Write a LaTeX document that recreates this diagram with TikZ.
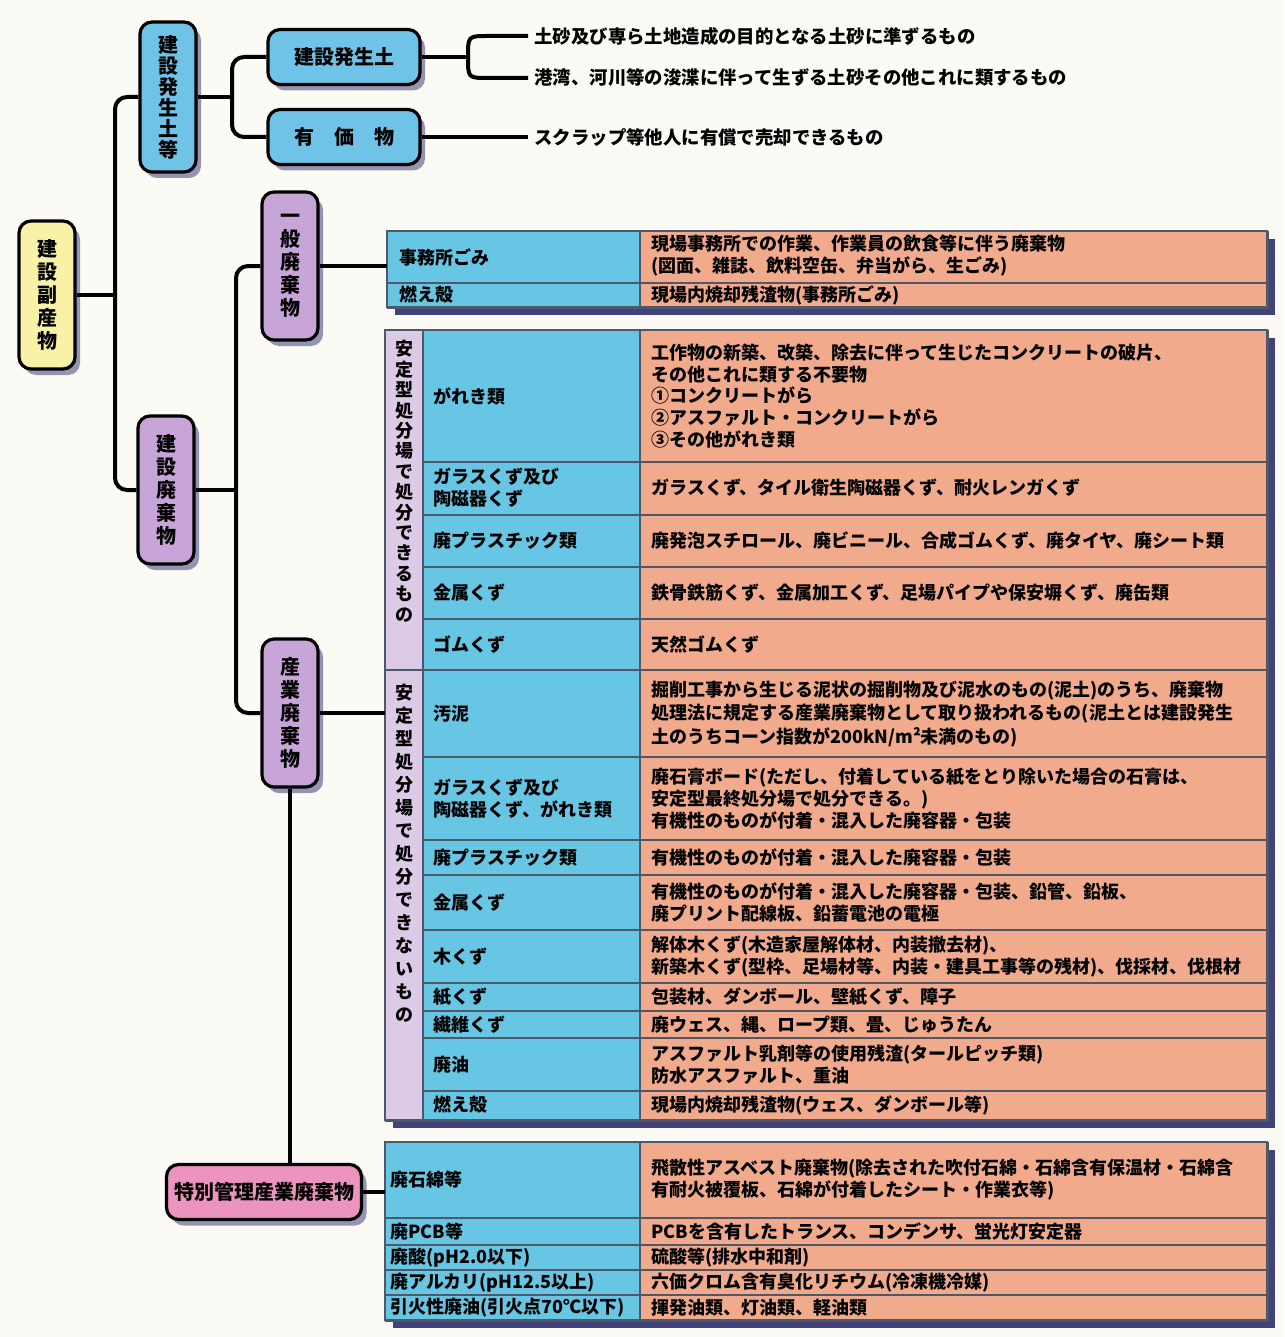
\documentclass[tikz,border=0pt]{standalone}
\usepackage{fontspec}
\setmainfont{Noto Sans CJK JP}
\usetikzlibrary{shadows}
\definecolor{bgc}{HTML}{FBFAF5}
\definecolor{bluebox}{HTML}{6EC3E6}
\definecolor{purplebox}{HTML}{C8A5D8}
\definecolor{yellowbox}{HTML}{F8F1A6}
\definecolor{pinkbox}{HTML}{EC94BE}
\definecolor{cellblue}{HTML}{66C6E4}
\definecolor{cellorange}{HTML}{F2AA8C}
\definecolor{celllav}{HTML}{DCCBE6}
\definecolor{gridc}{HTML}{4E5868}
\definecolor{shad}{HTML}{2E2E6E}
\begin{document}
\begin{tikzpicture}[x=0.5pt,y=-0.5pt,
  rbox/.style={draw=black, line width=1.6pt, rounded corners=6pt, inner sep=0pt, align=center,
    font=\bfseries\fontsize{10}{11}\selectfont,
    drop shadow={shadow xshift=2.5pt, shadow yshift=-3pt, fill=shad, opacity=0.5}},
  vbox/.style={rbox, minimum width=28pt, minimum height=74pt},
  hbox/.style={rbox, minimum width=76pt, minimum height=27.5pt},
  conn/.style={line width=2pt, rounded corners=6pt},
  ctext/.style={inner sep=0pt, anchor=west, align=left, font=\bfseries\fontsize{9}{11}\selectfont},
  toptext/.style={inner sep=3pt, anchor=west, font=\bfseries\fontsize{9.2}{11}\selectfont},
  gline/.style={draw=gridc, line width=0.8pt},
  tframe/.style={draw=gridc, line width=0.8pt, inner sep=0pt, anchor=north west},
  tshadow/.style={fill=shad, opacity=0.9}
]
\useasboundingbox (0,0) rectangle (1284,1337);
\fill[bgc] (0,0) rectangle (1284,1337);

% ---------- boxes ----------
\node[vbox, fill=yellowbox, font=\bfseries\fontsize{10}{11.5}\selectfont] (fuku) at (47,295) {建\\設\\副\\産\\物};
\node[vbox, fill=bluebox, minimum height=75pt, font=\bfseries\fontsize{10}{10.5}\selectfont] (hasseido) at (168,97) {建\\設\\発\\生\\土\\等};
\node[hbox, fill=bluebox] (hasseisub) at (344,57) {建設発生土};
\node[hbox, fill=bluebox] (yuka) at (344,137) {有　価　物};
\node[vbox, fill=purplebox, font=\bfseries\fontsize{10}{11.5}\selectfont] (ippan) at (290,266) {一\\般\\廃\\棄\\物};
\node[vbox, fill=purplebox, font=\bfseries\fontsize{10}{11.5}\selectfont] (haiki) at (166,490) {建\\設\\廃\\棄\\物};
\node[vbox, fill=purplebox, font=\bfseries\fontsize{10}{11.5}\selectfont] (sangyo) at (290,713) {産\\業\\廃\\棄\\物};
\node[rbox, fill=pinkbox, minimum width=97.5pt, minimum height=27.5pt] (toku) at (264,1192) {特別管理産業廃棄物};

% ---------- top texts ----------
\node[toptext] (t1) at (528,36) {土砂及び専ら土地造成の目的となる土砂に準ずるもの};
\node[toptext] (t2) at (528,78) {港湾、河川等の浚渫に伴って生ずる土砂その他これに類するもの};
\node[toptext] (t3) at (528,137) {スクラップ等他人に有償で売却できるもの};
\coordinate (fork) at (468,57);

% ---------- table 1 ----------
\fill[tshadow] (395,239) rectangle (1275,315);
\node[tframe, minimum width=440pt, minimum height=38pt] (tab1) at (387,231) {};
\fill[cellblue] (387,231) rectangle (640,307);
\fill[cellorange] (640,231) rectangle (1267,307);
\draw[gline] (387,283) -- (1267,283) (640,231) -- (640,307);
\draw[gline] (387,231) rectangle (1267,307);
\node[ctext] (a1l) at (399,257) {事務所ごみ};
\node[ctext] (a1r) at (651,256) {現場事務所での作業、作業員の飲食等に伴う廃棄物\\(図面、雑誌、飲料空缶、弁当がら、生ごみ)};
\node[ctext] (a2l) at (399,295) {燃え殻};
\node[ctext] (a2r) at (651,295) {現場内焼却残渣物(事務所ごみ)};

% ---------- table 2 ----------
\fill[tshadow] (393,338) rectangle (1275,1128);
\node[tframe, minimum width=441pt, minimum height=395pt] (tab2) at (385,330) {};
\fill[celllav] (385,330) rectangle (423,1120);
\fill[cellblue] (423,330) rectangle (640,1120);
\fill[cellorange] (640,330) rectangle (1267,1120);
\foreach \yy in {462,515,567,619,757,840,875,930,983,1011,1038,1091}
  \draw[gline] (423,\yy) -- (1267,\yy);
\draw[gline] (385,670) -- (1267,670);
\draw[gline] (423,330) -- (423,1120) (640,330) -- (640,1120);
\draw[gline] (385,330) rectangle (1267,1120);
\node[inner sep=0pt, anchor=north, align=center, font=\bfseries\fontsize{9}{10.2}\selectfont] (secA) at (404,340)
  {安\\定\\型\\処\\分\\場\\で\\処\\分\\で\\き\\る\\も\\の};
\node[inner sep=0pt, anchor=north, align=center, font=\bfseries\fontsize{9}{11.5}\selectfont] (secB) at (404,684)
  {安\\定\\型\\処\\分\\場\\で\\処\\分\\で\\き\\な\\い\\も\\の};

\node[ctext] (b1l) at (433,396) {がれき類};
\node[ctext, font=\bfseries\fontsize{9}{10.9}\selectfont] (b1r) at (651,396) {工作物の新築、改築、除去に伴って生じたコンクリートの破片、\\その他これに類する不要物\\①コンクリートがら\\②アスファルト・コンクリートがら\\③その他がれき類};
\node[ctext] (b2l) at (433,488) {ガラスくず及び\\陶磁器くず};
\node[ctext] (b2r) at (651,488) {ガラスくず、タイル衛生陶磁器くず、耐火レンガくず};
\node[ctext] (b3l) at (433,541) {廃プラスチック類};
\node[ctext] (b3r) at (651,541) {廃発泡スチロール、廃ビニール、合成ゴムくず、廃タイヤ、廃シート類};
\node[ctext] (b4l) at (433,593) {金属くず};
\node[ctext] (b4r) at (651,593) {鉄骨鉄筋くず、金属加工くず、足場パイプや保安塀くず、廃缶類};
\node[ctext] (b5l) at (433,645) {ゴムくず};
\node[ctext] (b5r) at (651,645) {天然ゴムくず};

\node[ctext] (c1l) at (433,714) {汚泥};
\node[ctext, font=\bfseries\fontsize{9}{11.7}\selectfont] (c1r) at (651,714) {掘削工事から生じる泥状の掘削物及び泥水のもの(泥土)のうち、廃棄物\\処理法に規定する産業廃棄物として取り扱われるもの(泥土とは建設発生\\土のうちコーン指数が200kN/m²未満のもの)};
\node[ctext] (c2l) at (433,799) {ガラスくず及び\\陶磁器くず、がれき類};
\node[ctext] (c2r) at (651,799) {廃石膏ボード(ただし、付着している紙をとり除いた場合の石膏は、\\安定型最終処分場で処分できる。)\\有機性のものが付着・混入した廃容器・包装};
\node[ctext] (c3l) at (433,858) {廃プラスチック類};
\node[ctext] (c3r) at (651,858) {有機性のものが付着・混入した廃容器・包装};
\node[ctext] (c4l) at (433,903) {金属くず};
\node[ctext] (c4r) at (651,903) {有機性のものが付着・混入した廃容器・包装、鉛管、鉛板、\\廃プリント配線板、鉛蓄電池の電極};
\node[ctext] (c5l) at (433,957) {木くず};
\node[ctext] (c5r) at (651,957) {解体木くず(木造家屋解体材、内装撤去材)、\\新築木くず(型枠、足場材等、内装・建具工事等の残材)、伐採材、伐根材};
\node[ctext] (c6l) at (433,997) {紙くず};
\node[ctext] (c6r) at (651,997) {包装材、ダンボール、壁紙くず、障子};
\node[ctext] (c7l) at (433,1025) {繊維くず};
\node[ctext] (c7r) at (651,1025) {廃ウェス、縄、ロープ類、畳、じゅうたん};
\node[ctext] (c8l) at (433,1065) {廃油};
\node[ctext] (c8r) at (651,1065) {アスファルト乳剤等の使用残渣(タールピッチ類)\\防水アスファルト、重油};
\node[ctext] (c9l) at (433,1105) {燃え殻};
\node[ctext] (c9r) at (651,1105) {現場内焼却残渣物(ウェス、ダンボール等)};

% ---------- table 3 ----------
\fill[tshadow] (393,1150) rectangle (1275,1328);
\node[tframe, minimum width=441pt, minimum height=89pt] (tab3) at (385,1142) {};
\fill[cellblue] (385,1142) rectangle (640,1320);
\fill[cellorange] (640,1142) rectangle (1267,1320);
\foreach \yy in {1218,1245,1270,1295}
  \draw[gline] (385,\yy) -- (1267,\yy);
\draw[gline] (640,1142) -- (640,1320);
\draw[gline] (385,1142) rectangle (1267,1320);
\node[ctext] (d1l) at (390,1180) {廃石綿等};
\node[ctext] (d1r) at (651,1180) {飛散性アスベスト廃棄物(除去された吹付石綿・石綿含有保温材・石綿含\\有耐火被覆板、石綿が付着したシート・作業衣等)};
\node[ctext] (d2l) at (390,1232) {廃PCB等};
\node[ctext] (d2r) at (651,1232) {PCBを含有したトランス、コンデンサ、蛍光灯安定器};
\node[ctext] (d3l) at (390,1258) {廃酸(pH2.0以下)};
\node[ctext] (d3r) at (651,1258) {硫酸等(排水中和剤)};
\node[ctext] (d4l) at (390,1283) {廃アルカリ(pH12.5以上)};
\node[ctext] (d4r) at (651,1283) {六価クロム含有臭化リチウム(冷凍機冷媒)};
\node[ctext] (d5l) at (390,1308) {引火性廃油(引火点70℃以下)};
\node[ctext] (d5r) at (651,1308) {揮発油類、灯油類、軽油類};

% ---------- connectors ----------
\draw[conn] (fuku.east) -- (115,295);
\draw[conn] (hasseido.west) -| (115,295) |- (haiki.west);
\draw[conn] (hasseido.east) -- (232,97);
\draw[conn] (hasseisub.west) -| (232,97) |- (yuka.west);
\draw[conn, rounded corners=0pt] (hasseisub.east) -- (fork);
\draw[conn, rounded corners=0pt] (t1.west) -- (488,36) .. controls (468,36) .. (fork)
   .. controls (468,78) .. (488,78) -- (t2.west);
\draw[conn] (yuka.east) -- (t3.west);
\draw[conn] (haiki.east) -- (236,490);
\draw[conn] (ippan.west) -| (236,490) |- (sangyo.west);
\draw[conn] (ippan.east) -- (ippan.east -| tab1.west);
\draw[conn] (sangyo.east) -- (sangyo.east -| tab2.west);
\draw[conn] (sangyo.south) -- (toku.north -| sangyo.south);
\draw[conn] (toku.east) -- (toku.east -| tab3.west);
\end{tikzpicture}
\end{document}
